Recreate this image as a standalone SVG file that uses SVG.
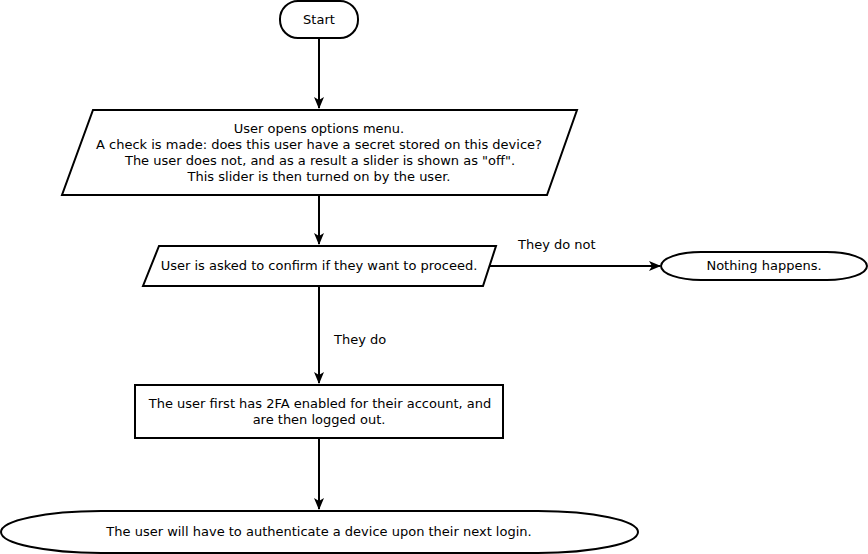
<svg xmlns="http://www.w3.org/2000/svg" width="868" height="554" viewBox="0 0 868 554">
<style>
.s{fill:#fff;stroke:#000;stroke-width:2}
.t{font-family:"DejaVu Sans",sans-serif;font-size:13px;fill:#000;text-anchor:middle}
.l{font-family:"DejaVu Sans",sans-serif;font-size:13px;fill:#000}
.c{fill:none;stroke:#000;stroke-width:2}
</style>
<defs>
<marker id="a" viewBox="0 0 12 10" refX="11" refY="5" markerWidth="12" markerHeight="10" markerUnits="userSpaceOnUse" orient="auto">
<path d="M0,0 L12,5 L0,10 L3,5 Z" fill="#000"/>
</marker>
</defs>
<rect width="868" height="554" fill="#fff"/>
<g id="connectors">
<line class="c" x1="319" y1="39" x2="319" y2="108" marker-end="url(#a)"/>
<line class="c" x1="319" y1="195" x2="319" y2="244" marker-end="url(#a)"/>
<line class="c" x1="319" y1="286" x2="319" y2="383" marker-end="url(#a)"/>
<text class="l" x="334" y="344">They do</text>
<line class="c" x1="490" y1="266" x2="660" y2="266" marker-end="url(#a)"/>
<text class="l" x="518" y="249">They do not</text>
<line class="c" x1="319" y1="438" x2="319" y2="509" marker-end="url(#a)"/>
</g>
<g id="start">
<rect class="s" x="280" y="1" width="78" height="37" rx="18" ry="18"/>
<text class="t" x="319" y="24">Start</text>
</g>
<g id="options">
<polygon class="s" points="93,110 577,110 547,195 62,195"/>
<text class="t" x="319" y="133">User opens options menu.</text>
<text class="t" x="319" y="149">A check is made: does this user have a secret stored on this device?</text>
<text class="t" x="320" y="165">The user does not, and as a result a slider is shown as "off".</text>
<text class="t" x="319" y="181">This slider is then turned on by the user.</text>
</g>
<g id="confirm">
<polygon class="s" points="159,246 496,246 483,286 143,286"/>
<text class="t" x="319" y="270">User is asked to confirm if they want to proceed.</text>
</g>
<g id="nothing">
<rect class="s" x="661" y="252" width="206" height="28" rx="40" ry="14"/>
<text class="t" x="764" y="270">Nothing happens.</text>
</g>
<g id="process">
<rect class="s" x="135" y="385" width="368" height="53"/>
<text class="t" x="320" y="408">The user first has 2FA enabled for their account, and</text>
<text class="t" x="319" y="424">are then logged out.</text>
</g>
<g id="end">
<rect class="s" x="1" y="511" width="637" height="42" rx="100" ry="21"/>
<text class="t" x="319" y="536">The user will have to authenticate a device upon their next login.</text>
</g>
</svg>
